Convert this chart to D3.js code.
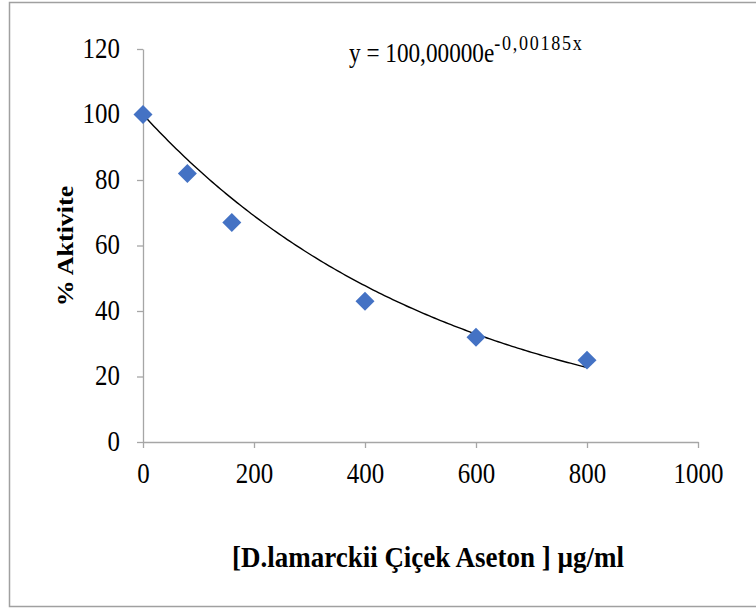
<!DOCTYPE html>
<html lang="tr">
<head>
    <meta charset="UTF-8">
    <title>Aktivite</title>
    <script src="https://d3js.org/d3.v7.min.js"></script>
    <style>
        body { margin: 0; background: #fff; }
        text { font-family: "Liberation Serif", "Times New Roman", serif; fill: #000; }
    </style>
</head>
<body>
<script>
    // data
    var concentrations = [0, 80, 160, 400, 600, 800];
    var activity = [100, 82, 67, 43, 32, 25];
    var xTicks = [0, 200, 400, 600, 800, 1000];
    var yTicks = [0, 20, 40, 60, 80, 100, 120];
    var fitA = 100, fitB = -0.00185;

    var W = 756, H = 610;
    var margin = {top: 49, right: 58, bottom: 168, left: 143},
        width = W - margin.left - margin.right,
        height = H - margin.top - margin.bottom;

    // text in the original is a bit narrow, squeeze it horizontally
    var sx = 0.86;

    var svg = d3.select("body").append("svg")
        .attr("width", W)
        .attr("height", H);

    // outer chart border
    svg.append("rect")
        .attr("x", 9.5).attr("y", 2.5)
        .attr("width", W).attr("height", 604)
        .attr("fill", "none")
        .attr("stroke", "#a0a0a0")
        .attr("stroke-width", 1.5);

    var g = svg.append("g")
        .attr("transform", "translate(" + margin.left + "," + margin.top + ")");

    var xScale = d3.scaleLinear().domain([0, 1000]).range([0, width]);
    var yScale = d3.scaleLinear().domain([0, 120]).range([height, 0]);

    var x_axis = d3.axisBottom(xScale).tickValues(xTicks).tickFormat(d3.format("d")).tickSize(6).tickSizeOuter(0);
    var y_axis = d3.axisLeft(yScale).tickValues(yTicks).tickFormat(d3.format("d")).tickSize(6).tickSizeOuter(0);

    var gx = g.append("g")
        .attr("transform", "translate(0," + height + ")")
        .call(x_axis);
    var gy = g.append("g").call(y_axis);

    [gx, gy].forEach(function(a) {
        a.selectAll("path, line").attr("stroke", "#a6a6a6").attr("stroke-width", 1.3);
        a.selectAll("text")
            .style("font-family", "'Liberation Serif', serif")
            .style("font-size", "29px")
            .attr("fill", "#000")
            .attr("transform", "scale(" + sx + ",1)");
    });
    gx.selectAll("text").attr("y", 41).attr("dy", 0);
    gy.selectAll("text").attr("x", -23 / sx).attr("dy", "0.28em");

    // trend line
    var fit = d3.range(0, 801, 5).map(function(x) { return [x, fitA * Math.exp(fitB * x)]; });
    g.append("path")
        .datum(fit)
        .attr("fill", "none")
        .attr("stroke", "#000")
        .attr("stroke-width", 1.4)
        .attr("d", d3.line().x(function(d) { return xScale(d[0]); }).y(function(d) { return yScale(d[1]); }));

    // points
    var pts = concentrations.map(function(c, i) { return [c, activity[i]]; });
    g.selectAll(".pt")
        .data(pts)
        .enter().append("path")
        .attr("class", "pt")
        .attr("d", d3.symbol().type(d3.symbolDiamond2).size(230))
        .attr("transform", function(d) { return "translate(" + xScale(d[0]) + "," + yScale(d[1]) + ")"; })
        .attr("fill", "#4472c4");

    // equation
    var eq = svg.append("text")
        .attr("transform", "translate(349,62) scale(" + sx + ",1)")
        .style("font-size", "27px");
    eq.append("tspan").text("y = 100,00000e");
    eq.append("tspan").attr("dy", -12).style("font-size", "21px")
        .style("letter-spacing", "2px").text("-0,00185x");

    // axis titles
    svg.append("text")
        .attr("transform", "translate(73,246) rotate(-90) scale(1," + sx + ")")
        .attr("text-anchor", "middle")
        .style("font-size", "26px")
        .style("font-weight", "bold")
        .text("% Aktivite");

    svg.append("text")
        .attr("transform", "translate(428,567) scale(0.9,1)")
        .attr("text-anchor", "middle")
        .style("font-size", "30px")
        .style("font-weight", "bold")
        .text("[D.lamarckii Çiçek Aseton ] µg/ml");
</script>
</body>
</html>
